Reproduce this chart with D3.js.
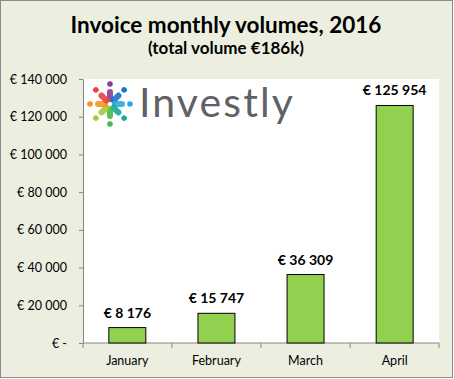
<!DOCTYPE html>
<html>
<head>
<meta charset="utf-8">
<script src="https://cdn.jsdelivr.net/npm/d3@7"></script>
<style>
  body { margin: 0; background: #fff; }
  svg { display: block; font-family: Lato, "Open Sans", sans-serif; }
</style>
</head>
<body>
<div class="chart"></div>
<script>
// chart data
let months = ["January", "February", "March", "April"];
let volumes = [8176, 15747, 36309, 125954];
let yTicks = [0, 20000, 40000, 60000, 80000, 100000, 120000, 140000];
let titleText = "Invoice monthly volumes, 2016";
let subtitleText = "(total volume €186k)";

let width = 454, height = 379;
let plot = { left: 83, right: 439, top: 79, bottom: 343 };

let svg = d3.select(".chart")
	.append("svg")
	.attr("width", width)
	.attr("height", height);

// background + border
svg.append("rect")
	.attr("x", 0.5).attr("y", 0.5)
	.attr("width", width - 2).attr("height", height - 2)
	.attr("fill", "#ECEFE0")
	.attr("stroke", "#8C8C8C");

svg.append("rect")
	.attr("x", plot.left).attr("y", plot.top)
	.attr("width", plot.right - plot.left).attr("height", plot.bottom - plot.top)
	.attr("fill", "#fff");

let fmt = function(v) {
	if (v === 0) return "€ -";
	return "€ " + d3.format(",")(v).replace(/,/g, " ");
};

let x = d3.scaleBand().domain(months).range([plot.left, plot.right]).paddingInner(0.585).paddingOuter(0.29);
let y = d3.scaleLinear().domain([0, 140000]).range([plot.bottom, plot.top]);

// y axis
let yAxis = svg.append("g")
	.attr("transform", "translate(" + plot.left + ",0)")
	.call(d3.axisLeft(y).tickValues(yTicks).tickSize(4).tickPadding(12).tickFormat(fmt).tickSizeOuter(0));
yAxis.selectAll("text").attr("font-size", 12.5).attr("fill", "#000").attr("font-family", "Lato");

// x axis with ticks at band edges
let xAxisG = svg.append("g").attr("transform", "translate(0," + plot.bottom + ")");
xAxisG.append("line")
	.attr("x1", plot.left).attr("x2", plot.right)
	.attr("stroke", "#868686");
let edges = months.map(m => x(m) - x.step() * x.paddingInner() / 2);
edges.push(plot.right);
edges[0] = plot.left;
xAxisG.selectAll(".xt").data(edges).enter().append("line")
	.attr("x1", d => d).attr("x2", d => d).attr("y1", 0).attr("y2", 5)
	.attr("stroke", "#868686");
xAxisG.selectAll(".xl").data(months).enter().append("text")
	.attr("x", d => x(d) + x.bandwidth() / 2)
	.attr("y", 22)
	.attr("text-anchor", "middle")
	.attr("font-size", 12.5)
	.text(d => d);

yAxis.selectAll(".domain").attr("stroke", "#868686");
yAxis.selectAll(".tick line").attr("stroke", "#868686");

// logo
let logo = svg.append("g").attr("transform", "translate(110,104)");
let petalColors = ["#8E3A96", "#1A74C9", "#2AA9E0", "#17A99B", "#4DB848", "#A4C93A", "#F7941E", "#E8413C"];
petalColors.forEach(function(c, i) {
	let a = i * 45;
	let g = logo.append("g").attr("transform", "rotate(" + a + ")");
	g.append("rect")
		.attr("x", -3).attr("y", -15).attr("width", 6).attr("height", 13).attr("rx", 3)
		.attr("fill", c).attr("opacity", 0.9);
	g.append("circle").attr("cx", 0).attr("cy", -20).attr("r", 2.8).attr("fill", c);
});
svg.append("text")
	.attr("x", 139).attr("y", 117)
	.attr("font-size", 41)
	.attr("fill", "#606164")
	.attr("font-family", "Lato")
	.attr("textLength", 154)
	.text("Investly");

// bars
svg.selectAll(".bar")
	.data(volumes)
	.enter().append("rect")
	.attr("class", "bar")
	.attr("x", (d, i) => x(months[i]))
	.attr("y", d => y(d))
	.attr("width", x.bandwidth())
	.attr("height", d => plot.bottom - y(d))
	.attr("fill", "#92D050")
	.attr("stroke", "#000")
	.attr("stroke-width", 1);

svg.selectAll(".lbl")
	.data(volumes)
	.enter().append("text")
	.attr("x", (d, i) => x(months[i]) + x.bandwidth() / 2)
	.attr("y", d => y(d) - 10)
	.attr("text-anchor", "middle")
	.attr("font-size", 14)
	.attr("font-weight", "bold")
	.text(d => fmt(d));

// titles
svg.append("text")
	.attr("x", 226).attr("y", 33)
	.attr("text-anchor", "middle")
	.attr("font-size", 22.5)
	.attr("font-weight", "bold")
	.text(titleText);
svg.append("text")
	.attr("x", 226).attr("y", 54)
	.attr("text-anchor", "middle")
	.attr("font-size", 17)
	.attr("font-weight", "bold")
	.text(subtitleText);
</script>
</body>
</html>
